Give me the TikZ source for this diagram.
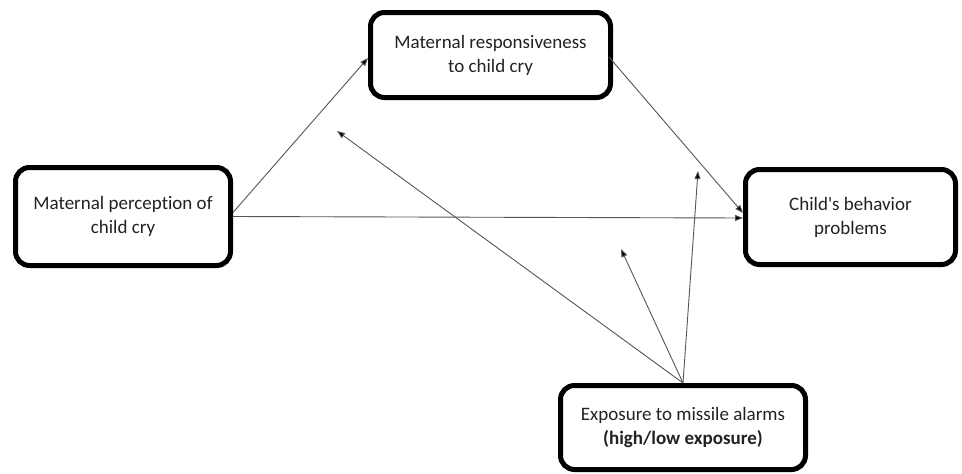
\documentclass[tikz,border=0pt]{standalone}
\usepackage{fontspec}
\setmainfont{Carlito}[Ligatures={TeXOff,NoCommon}]
\usetikzlibrary{arrows.meta}
\definecolor{txt}{HTML}{222222}
\definecolor{ln}{HTML}{555555}
\begin{document}
\begin{tikzpicture}[x=1pt,y=-1pt,
  box/.style={draw=black,line width=5pt,rounded corners=14pt,fill=white,align=center,
    font=\fontsize{19}{24}\selectfont,text=txt,inner sep=0pt},
  conn/.style={draw=ln,line width=0.9pt,-{Triangle[length=8pt,width=6pt,fill=black]}}]
\useasboundingbox (0,0) rectangle (962,474);
\node[box,minimum width=215pt,minimum height=98pt] (perc) at (123,216.5) {Maternal perception of\\child cry};
\node[box,minimum width=240pt,minimum height=85pt] (resp) at (490.5,55) {Maternal responsiveness\\to child cry};
\node[box,minimum width=210pt,minimum height=95pt] (beh) at (850.5,217) {Child's behavior\\problems};
\node[box,minimum width=245pt,minimum height=84pt] (exp) at (683,427.5) {Exposure to missile alarms\\\textbf{(high/low exposure)}};
\coordinate (m1) at (337,131);
\coordinate (m2) at (621,249);
\coordinate (m3) at (698,171);
\draw[conn] ([yshift=4pt]perc.east) -- ([yshift=-3pt]resp.west);
\draw[conn] (perc.east) -- ([yshift=-1pt]beh.west);
\draw[conn] ([xshift=-4pt,yshift=-2pt]resp.east) -- ([yshift=4pt]beh.west);
\draw[conn] (exp.north) -- (m1);
\draw[conn] (exp.north) -- (m2);
\draw[conn] (exp.north) -- (m3);
\end{tikzpicture}
\end{document}
